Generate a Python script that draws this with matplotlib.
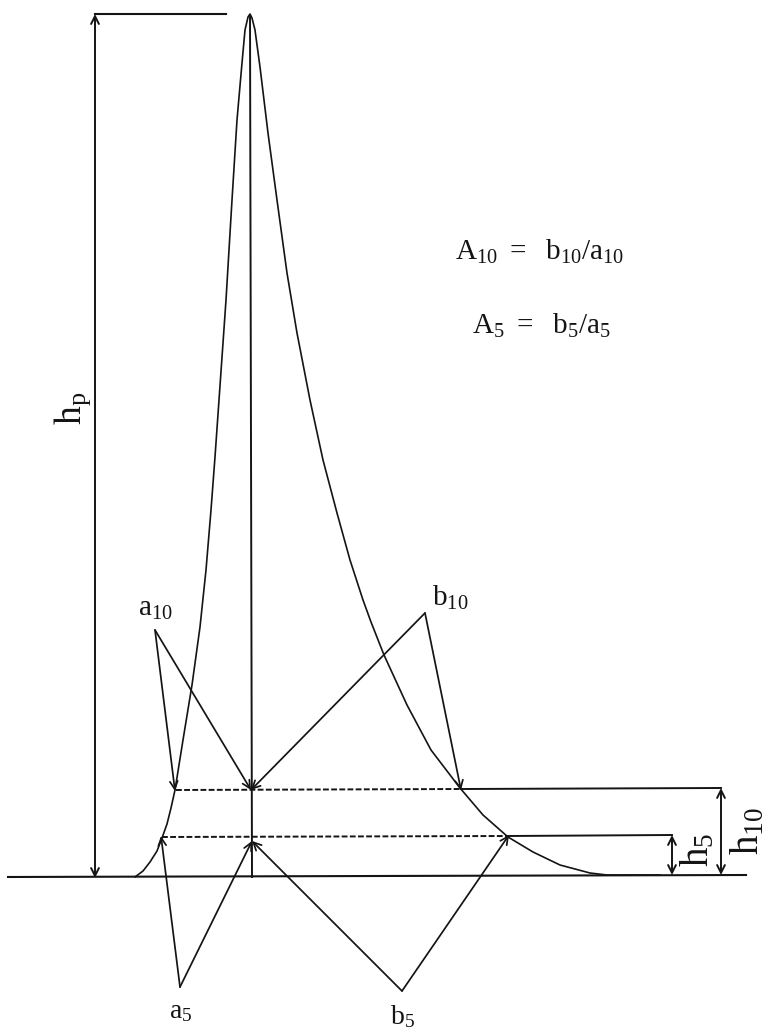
import matplotlib
matplotlib.use("Agg")
import matplotlib.pyplot as plt

plt.rcParams['font.family'] = ['Liberation Serif', 'DejaVu Serif']
plt.rcParams['mathtext.fontset'] = 'custom'
plt.rcParams['mathtext.rm'] = 'Liberation Serif'
plt.rcParams['mathtext.it'] = 'Liberation Serif'
plt.rcParams['mathtext.default'] = 'rm'

# peak outline (x, height on page)
peak_x = [135, 143, 150, 157, 162, 167, 171, 175, 183, 192, 200, 206, 211, 215, 219, 223, 226, 229, 232,
          237, 242, 245, 248, 250,
          252, 255, 260, 268, 277, 287, 297, 310, 323, 337, 350, 363, 371, 384, 407, 431, 460,
          483, 508, 533, 560, 590, 607, 660]
peak_y = [877, 871, 862, 851, 838, 824, 808, 790, 740, 685, 627, 570, 510, 457, 400, 343, 300, 250, 200,
          120, 63, 30, 17, 14,
          18, 30, 67, 133, 200, 273, 333, 400, 460, 513, 560, 600, 622, 655, 705, 750, 788,
          815, 837, 852, 865, 873, 875, 875]

base_x = [8, 746]
base_y = [877, 875]
top_x = [95, 226]
top_y = [14, 14]
centre_x = [250, 252]
centre_y = [15, 877]

dash_10_x = [176, 461]
dash_10_y = [790, 789]
dash_5_x = [162, 508]
dash_5_y = [837, 836]
level_10_x = [461, 721]
level_10_y = [789, 788]
level_5_x = [508, 672]
level_5_y = [836, 835]

# (tail, head) arrows: from the label corners to the peak and centre line
arrows = [
    ((155, 630), (175, 791)),
    ((155, 630), (251, 790)),
    ((425, 613), (251, 790)),
    ((425, 613), (461, 790)),
    ((180, 987), (161, 836)),
    ((180, 987), (252, 841)),
    ((402, 991), (252, 841)),
    ((402, 991), (509, 835)),
]
double_arrows = [
    ((95, 14), (95, 878)),
    ((721, 788), (721, 875)),
    ((672, 835), (672, 875)),
]

labels = [
    (155, 609, r'$\mathrm{a}_{10}$', 21, 0),
    (450, 598, r'$\mathrm{b}_{10}$', 21, 0),
    (181, 1012, r'$\mathrm{a}_{5}$', 20, 0),
    (402, 1017, r'$\mathrm{b}_{5}$', 20, 0),
    (73, 408, r'$\mathrm{h}_{\mathrm{p}}$', 27, 90),
    (698, 850, r'$\mathrm{h}_{5}$', 28, 90),
    (748, 831, r'$\mathrm{h}_{10}$', 28, 90),
    (540, 252, r'$\mathrm{A}_{10}\ =\ \ \mathrm{b}_{10}/\mathrm{a}_{10}$', 21, 0),
    (541, 326, r'$\mathrm{A}_{5}\ =\ \ \mathrm{b}_{5}/\mathrm{a}_{5}$', 21, 0),
]

ink = '#141414'
fig = plt.figure(figsize=(7.66, 10.29), dpi=100)
ax = fig.add_axes([0, 0, 1, 1])
ax.set_xlim(0, 766)
ax.set_ylim(1029, 0)
ax.axis('off')

ax.plot(peak_x, peak_y, color=ink, lw=1.2)
ax.plot(base_x, base_y, color=ink, lw=1.5)
ax.plot(top_x, top_y, color=ink, lw=1.5)
ax.plot(centre_x, centre_y, color=ink, lw=1.4)
ax.plot(level_10_x, level_10_y, color=ink, lw=1.4)
ax.plot(level_5_x, level_5_y, color=ink, lw=1.4)
ax.plot(dash_10_x, dash_10_y, color=ink, lw=1.4, ls=(0, (3, 1.2)))
ax.plot(dash_5_x, dash_5_y, color=ink, lw=1.4, ls=(0, (3, 1.2)))

for tail, head in arrows:
    ax.annotate('', xy=head, xytext=tail,
                arrowprops=dict(arrowstyle='->', color=ink, lw=1.25, shrinkA=0, shrinkB=0,
                                mutation_scale=14))
for start, end in double_arrows:
    ax.annotate('', xy=end, xytext=start,
                arrowprops=dict(arrowstyle='<->', color=ink, lw=1.4, shrinkA=0, shrinkB=0,
                                mutation_scale=14))

for x, y, s, size, rot in labels:
    ax.text(x, y, s, fontsize=size, rotation=rot, ha='center', va='center', color=ink)

fig.savefig('out.png', dpi=100)
